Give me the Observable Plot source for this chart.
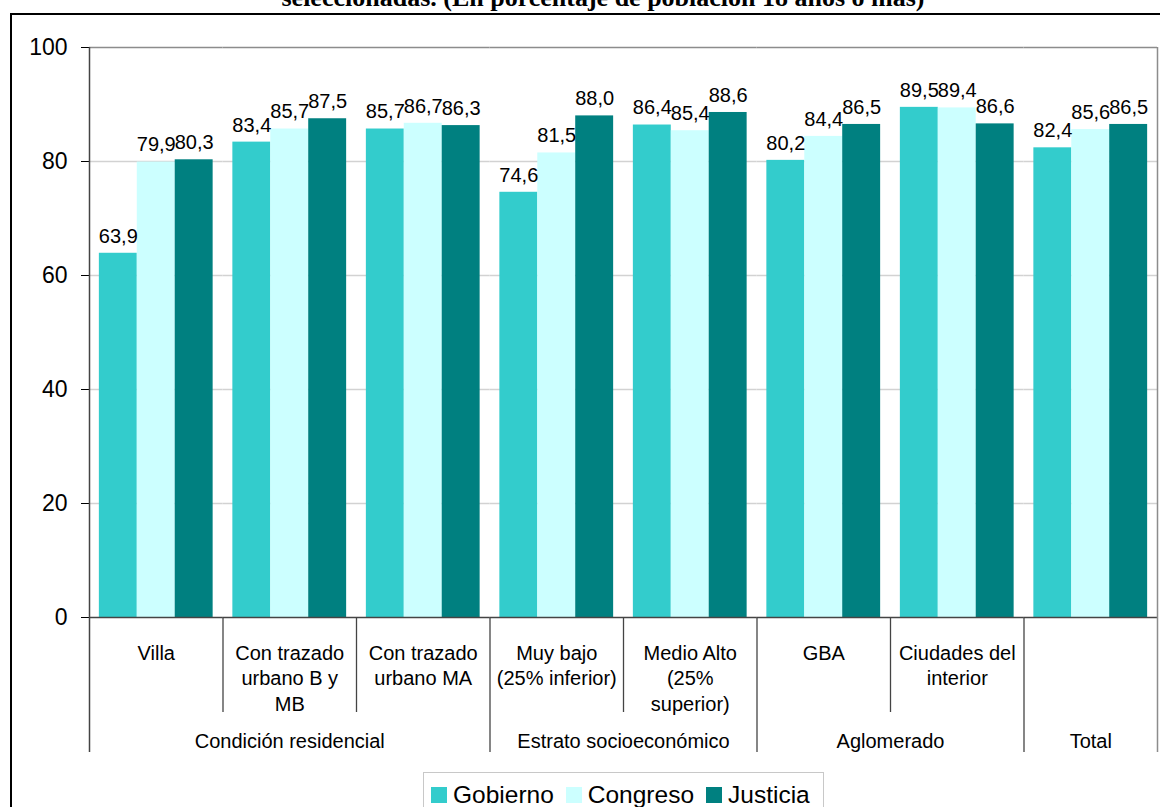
<!DOCTYPE html>
<html>
<head>
<meta charset="utf-8">
<script src="https://cdn.jsdelivr.net/npm/d3@7"></script>
<script src="https://cdn.jsdelivr.net/npm/@observablehq/plot@0.6"></script>
<style>
html, body { margin:0; padding:0; width:1160px; height:807px; overflow:hidden; background:#fff; font-family:"Liberation Sans", Arial, sans-serif; }
#title { position:absolute; left:0; top:-17px; width:1206px; text-align:center; white-space:nowrap; line-height:1; font:bold 26px "Liberation Serif", "Times New Roman", serif; color:#000; }
#box { position:absolute; left:10px; top:13px; width:1200px; height:900px; border:2px solid #000; box-sizing:border-box; }
#main, #axis { position:absolute; left:0; top:0; }
#legend { position:absolute; left:423px; top:772px; width:401px; height:60px; border:1px solid #c8c8c8; box-sizing:border-box; padding:5px 0 0 7px; background:#fff; }
#legend .leg-swatch { margin-right:12px !important; }
#legend .leg-swatch > svg { margin-right:6px !important; }
</style>
</head>
<body>
<div id="title">seleccionadas. (En porcentaje de población 18 años o más)</div>
<div id="box"></div>
<div id="main"></div>
<div id="axis"></div>
<div id="legend"></div>
<script>
// ---- data ----
const catKeys = ["Villa", "Con trazado urbano B y MB", "Con trazado urbano MA", "Muy bajo", "Medio Alto", "GBA", "Ciudades del interior", "Total"];
const catLabels = ["Villa", "Con trazado\nurbano B y\nMB", "Con trazado\nurbano MA", "Muy bajo\n(25% inferior)", "Medio Alto\n(25%\nsuperior)", "GBA", "Ciudades del\ninterior", ""];
const groupNames = ["Condición residencial", "Estrato socioeconómico", "Aglomerado", "Total"];
const groupSizes = [3, 2, 2, 1];
const series = ["Gobierno", "Congreso", "Justicia"];
const gobierno = [63.9, 83.4, 85.7, 74.6, 86.4, 80.2, 89.5, 82.4];
const congreso = [79.9, 85.7, 86.7, 81.5, 85.4, 84.4, 89.4, 85.6];
const justicia = [80.3, 87.5, 86.3, 88.0, 88.6, 86.5, 86.6, 86.5];
const colors = ["#33CCCC", "#CCFFFF", "#008080"];
const yTicks = [0, 20, 40, 60, 80, 100];

// ---- derived tables ----
const seriesValues = [gobierno, congreso, justicia];
const rows = catKeys.flatMap((c, i) => series.map((s, j) => ({cat: c, series: s, value: seriesValues[j][i]})));
const fmt = v => v.toFixed(1).replace(".", ",");
let acc = 0;
const groups = groupNames.map((g, k) => { const start = acc; acc += groupSizes[k]; return {name: g, start, end: acc}; });
const groupInner = groups.slice(0, -1).map(g => g.end);
const catInner = d3.range(1, catKeys.length).filter(b => !groupInner.includes(b));
const font = "'Liberation Sans', Arial, sans-serif";

const W = 1160, ML = 89, MR = 3, MT = 47;

// ---- main chart: bars, grid, y axis, values ----
const main = Plot.plot({
  width: W, height: 630,
  marginLeft: ML, marginRight: MR, marginTop: MT, marginBottom: 13,
  style: {fontFamily: font, fontSize: "23px", background: "transparent", color: "#000", overflow: "visible"},
  fx: {domain: catKeys, paddingInner: 0, paddingOuter: 0, round: false, axis: null, label: null},
  x: {domain: series, paddingInner: 0, paddingOuter: 0.26, round: false, axis: null, label: null},
  y: {domain: [0, 100], ticks: yTicks, tickSize: 8, tickPadding: 14, label: null},
  color: {domain: series, range: colors},
  marks: [
    Plot.ruleY(yTicks.filter(t => t > 0 && t < 100), {stroke: "#d2d2d2", strokeWidth: 1.5}),
    Plot.ruleY([100], {stroke: "#8c8c8c", strokeWidth: 1.5}),
    Plot.barY(rows, {fx: "cat", x: "series", y: "value", fill: "series"}),
    Plot.text(rows, {fx: "cat", x: "series", y: "value", text: d => fmt(d.value), dy: -17, fontSize: 20, fill: "#000"}),
    Plot.ruleY([0], {stroke: "#444", strokeWidth: 1.5})
  ]
});
document.getElementById("main").appendChild(main);

// ---- hierarchical category axis + plot-area side borders ----
const axis = Plot.plot({
  width: W, height: 760,
  marginLeft: ML, marginRight: MR, marginTop: MT, marginBottom: 8,
  style: {fontFamily: font, fontSize: "20px", background: "transparent", color: "#000", overflow: "visible"},
  x: {domain: [0, catKeys.length], axis: null},
  marks: [
    Plot.ruleX([catKeys.length], {stroke: "#8c8c8c", strokeWidth: 1.5}),
    Plot.ruleX([0], {stroke: "#444", strokeWidth: 1.5}),
    Plot.ruleX(groupInner, {stroke: "#444", strokeWidth: 1.3, insetTop: 570}),
    Plot.ruleX(catInner, {stroke: "#444", strokeWidth: 1.3, insetTop: 570, insetBottom: 40}),
    Plot.text(catLabels, {x: (d, i) => i + 0.5, text: d => d, frameAnchor: "bottom", lineAnchor: "top", dy: -111, lineHeight: 1.28, fontSize: 20, fill: "#000"}),
    Plot.text(groups, {x: d => (d.start + d.end) / 2, text: "name", frameAnchor: "bottom", lineAnchor: "middle", dy: -11.4, fontSize: 20, fill: "#000"})
  ]
});
document.getElementById("axis").appendChild(axis);

// ---- legend ----
const leg = Plot.legend({
  color: {type: "ordinal", domain: series, range: colors},
  swatchSize: 16, className: "leg",
  style: {fontSize: "24.5px", fontFamily: font, color: "#000"}
});
document.getElementById("legend").appendChild(leg);
</script>
</body>
</html>
